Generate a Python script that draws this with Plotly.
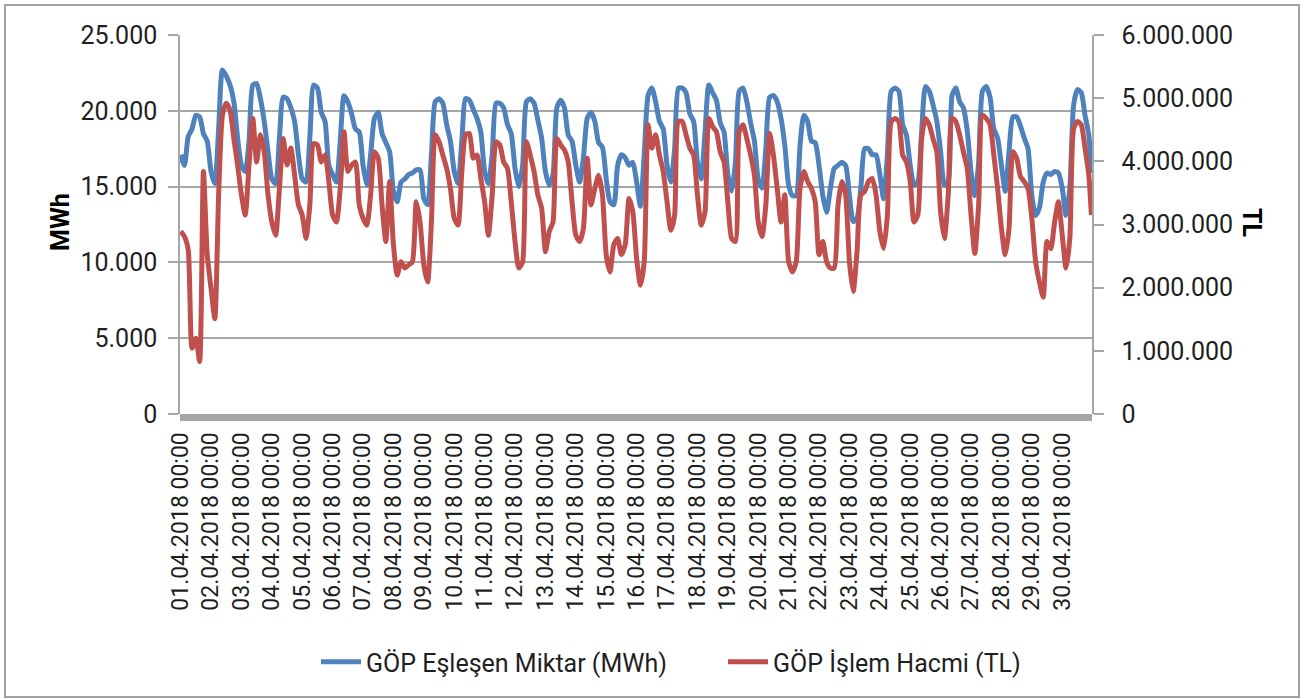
import pandas as pd
import plotly.graph_objects as go

# --- data (3-hourly samples, April 2018) ---
zaman = list(pd.date_range("2018-04-01 00:00", periods=240, freq="3h")) + [pd.Timestamp("2018-04-30 23:00")]

gop_eslesen_miktar_mwh = [
    17100, 16400, 18300, 18800, 19700, 19600, 18500, 18000,
    16000, 15200, 18800, 22700, 22300, 21700, 20600, 18200,
    16400, 16000, 18000, 21700, 21800, 20800, 19300, 17300,
    15500, 15200, 18200, 20900, 20800, 20200, 19300, 17100,
    15500, 15300, 18200, 21700, 21500, 19900, 19300, 16400,
    15800, 15300, 18000, 21000, 20600, 19800, 18800, 18600,
    16400, 15100, 17100, 19500, 19900, 18500, 17900, 17300,
    14700, 14000, 15300, 15500, 15800, 15900, 16100, 16100,
    14200, 13800, 17100, 20600, 20800, 20500, 19100, 18000,
    16000, 15200, 18000, 20800, 20700, 20100, 19500, 18600,
    16000, 15200, 17100, 20500, 20500, 20200, 19100, 18500,
    16200, 15000, 16400, 20600, 20800, 20500, 19400, 18200,
    16000, 15100, 15800, 20200, 20700, 20200, 18400, 18000,
    16400, 15300, 16900, 19500, 19900, 19300, 17900, 17600,
    15500, 14000, 13800, 16400, 17100, 16900, 16400, 16600,
    15300, 13700, 17100, 21000, 21500, 20600, 19300, 18800,
    16400, 15300, 17500, 21500, 21500, 21200, 19800, 19300,
    16600, 15500, 18600, 21700, 21200, 20700, 19200, 18600,
    15800, 14700, 16600, 21300, 21500, 20600, 19200, 18000,
    15500, 14900, 17500, 20900, 21000, 20600, 19500, 17700,
    15100, 14400, 14400, 17700, 19700, 19300, 18000, 17900,
    16400, 14400, 13300, 14900, 16200, 16400, 16600, 16400,
    14400, 12700, 12900, 14900, 17500, 17500, 17100, 17100,
    15800, 14200, 17100, 21300, 21500, 21300, 19100, 18400,
    16400, 15100, 15300, 18600, 21600, 21300, 20400, 19300,
    17300, 15100, 15300, 21000, 21500, 20600, 20200, 18700,
    16000, 14400, 16600, 21300, 21600, 20900, 18800, 18200,
    16400, 14700, 17300, 19600, 19600, 19000, 18200, 17500,
    14400, 13100, 13600, 15300, 15900, 15800, 16000, 15900,
    14900, 13100, 14900, 20400, 21400, 21200, 19700, 18400,
    15900,
]

gop_islem_hacmi_tl = [
    2890000, 2810000, 2600000, 1040000, 1200000, 830000, 3840000, 2520000,
    1990000, 1510000, 3470000, 4730000, 4920000, 4810000, 4360000, 3940000,
    3470000, 3150000, 3940000, 4680000, 3990000, 4420000, 4150000, 3470000,
    3040000, 2830000, 3570000, 4360000, 3940000, 4210000, 3780000, 3310000,
    3150000, 2780000, 3310000, 4280000, 4260000, 3990000, 4100000, 3680000,
    3150000, 3040000, 3570000, 4470000, 3840000, 3940000, 3990000, 3310000,
    3100000, 2990000, 3470000, 4150000, 4050000, 3310000, 2730000, 3680000,
    2680000, 2200000, 2410000, 2310000, 2360000, 2410000, 3360000, 3040000,
    2360000, 2090000, 3040000, 4420000, 4310000, 4100000, 3890000, 3570000,
    3100000, 2990000, 3840000, 4420000, 4440000, 4050000, 4100000, 3730000,
    3360000, 2830000, 3470000, 4310000, 4260000, 3990000, 3890000, 3360000,
    2730000, 2310000, 2410000, 4310000, 4100000, 3840000, 3470000, 3260000,
    2570000, 2890000, 3040000, 4360000, 4260000, 4180000, 3990000, 3360000,
    2830000, 2730000, 2940000, 4050000, 3310000, 3570000, 3780000, 3470000,
    2520000, 2250000, 2680000, 2780000, 2520000, 2680000, 3410000, 3200000,
    2460000, 2040000, 2410000, 4580000, 4210000, 4420000, 4100000, 3840000,
    3360000, 2910000, 3150000, 4630000, 4630000, 4420000, 4210000, 4100000,
    3470000, 2990000, 3200000, 4680000, 4550000, 4470000, 4150000, 3990000,
    3360000, 2780000, 2730000, 4470000, 4580000, 4360000, 4100000, 3780000,
    3040000, 2810000, 3310000, 4440000, 4100000, 3570000, 3040000, 3470000,
    2410000, 2250000, 2410000, 3570000, 3840000, 3680000, 3570000, 3360000,
    2520000, 2730000, 2410000, 2310000, 2310000, 3310000, 3680000, 3470000,
    2410000, 1940000, 2570000, 3470000, 3520000, 3680000, 3730000, 3470000,
    2890000, 2620000, 3150000, 4630000, 4680000, 4630000, 4100000, 3990000,
    3680000, 3040000, 3150000, 4360000, 4680000, 4580000, 4360000, 4150000,
    3200000, 2780000, 3470000, 4680000, 4630000, 4420000, 4150000, 3890000,
    3150000, 2540000, 3310000, 4730000, 4680000, 4580000, 4100000, 3570000,
    2940000, 2520000, 2940000, 4150000, 4050000, 3760000, 3680000, 3570000,
    3100000, 2410000, 2090000, 1850000, 2730000, 2620000, 3040000, 3360000,
    2830000, 2310000, 2780000, 4520000, 4630000, 4580000, 4210000, 3780000,
    3150000,
]

seri_adlari = ["GÖP Eşleşen Miktar (MWh)", "GÖP İşlem Hacmi (TL)"]
sol_eksen_basligi = "MWh"
sag_eksen_basligi = "TL"

# --- figure ---
FONT = "Roboto"
TXT = "#1f1f1f"
GRID = "#a6a6a6"

fig = go.Figure()
fig.add_trace(go.Scatter(x=zaman, y=gop_eslesen_miktar_mwh, name=seri_adlari[0],
                         mode="lines", line=dict(color="#4f81bd", width=5, shape="spline", smoothing=0.6),
                         yaxis="y", legend="legend"))
fig.add_trace(go.Scatter(x=zaman, y=gop_islem_hacmi_tl, name=seri_adlari[1],
                         mode="lines", line=dict(color="#c0504d", width=5, shape="spline", smoothing=0.6),
                         yaxis="y2", legend="legend2"))

W, H = 1305, 699
L, R, T, B = 180, 1092, 35, 414
pw, ph = R - L, B - T


def px(xp):
    return (xp - L) / pw


def py(yp):
    return (B - yp) / ph


leg_common = dict(orientation="h", yanchor="middle", xanchor="left", y=py(662),
                  font=dict(family=FONT, size=25, color=TXT), itemwidth=40,
                  bgcolor="rgba(0,0,0,0)")

fig.update_layout(
    width=W, height=H,
    margin=dict(l=L, r=W - R, t=T, b=H - B, autoexpand=False),
    paper_bgcolor="white", plot_bgcolor="white",
    separators=",.",
    font=dict(family=FONT, size=25, color=TXT),
    showlegend=True,
    legend=dict(x=px(316), **leg_common),
    legend2=dict(x=px(723), **leg_common),
    xaxis=dict(
        type="date",
        range=[pd.Timestamp("2018-03-31 23:30"), pd.Timestamp("2018-04-30 23:30")],
        tick0="2018-04-01 00:00", dtick=86400000,
        tickformat="%d.%m.%Y %H:%M", tickangle=-90,
        tickfont=dict(family=FONT, size=23, color=TXT),
        ticks="outside", ticklen=8, tickcolor="rgba(0,0,0,0)",
        showgrid=False, zeroline=False, showline=False,
    ),
    yaxis=dict(
        range=[0, 25000], dtick=5000, tickformat=",",
        showgrid=True, gridcolor=GRID, gridwidth=1.5,
        showline=True, linecolor=GRID, linewidth=1.5,
        ticks="outside", ticklen=10, tickcolor=GRID, tickwidth=1.5,
        zeroline=False, tickfont=dict(family=FONT, size=25, color=TXT),
        ticklabelstandoff=6,
    ),
    yaxis2=dict(
        range=[0, 6000000], dtick=1000000, tickformat=",", tickprefix="\u2002",
        overlaying="y", side="right", showgrid=False,
        showline=True, linecolor=GRID, linewidth=1.5,
        ticks="outside", ticklen=10, tickcolor=GRID, tickwidth=1.5,
        zeroline=False, tickfont=dict(family=FONT, size=25, color=TXT),
    ),
)

# category-axis band (dense tick marks under the plot) and outer chart border
fig.add_shape(type="rect", xref="paper", yref="paper",
              x0=0, x1=1, y0=py(B), y1=py(B + 7),
              fillcolor="#a6a6a6", line=dict(width=0), layer="above")
fig.add_shape(type="rect", xref="paper", yref="paper",
              x0=px(5), x1=px(1299), y0=py(5), y1=py(697),
              line=dict(color="#a0a0a0", width=2), fillcolor="rgba(0,0,0,0)")

fig.add_annotation(text=f"<b>{sol_eksen_basligi}</b>", xref="paper", yref="paper",
                   x=px(60), y=py(222), xanchor="center", yanchor="middle",
                   textangle=-90, showarrow=False,
                   font=dict(family=FONT, size=25, color="#000000"))
fig.add_annotation(text=f"<b>{sag_eksen_basligi}</b>", xref="paper", yref="paper",
                   x=px(1252), y=py(222), xanchor="center", yanchor="middle",
                   textangle=90, showarrow=False,
                   font=dict(family=FONT, size=25, color="#000000"))

fig.write_html("out.html", config={"displayModeBar": False},
               post_script="document.body.style.margin='0';document.body.style.padding='0';")
